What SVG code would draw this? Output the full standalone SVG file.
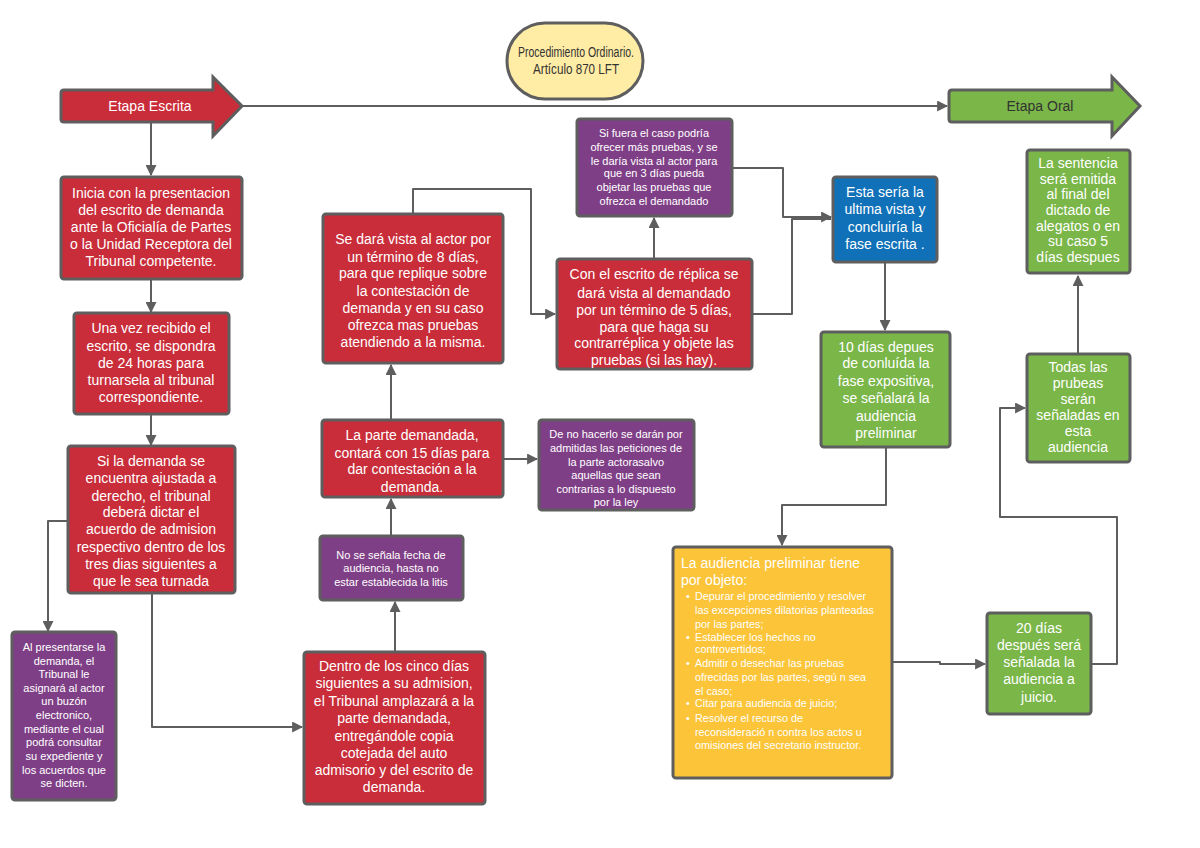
<svg xmlns="http://www.w3.org/2000/svg" width="1200" height="848" viewBox="0 0 1200 848">
<style>
.bx{stroke:#5e5e5e;stroke-width:3}
.red{fill:#c92d39}.pur{fill:#7f3f87}.grn{fill:#7ab648}.blu{fill:#1071b9}.yel{fill:#fcc438}
.t{font-family:"Liberation Sans",Arial,sans-serif;fill:#fff;text-anchor:middle;font-size:14px}
.s{font-size:11px}
.m{font-size:10.8px}
.d{fill:#333}
.l{text-anchor:start}
.c{fill:none;stroke:#5e5e5e;stroke-width:2;stroke-linejoin:round}
</style>
<defs>
<marker id="ah" viewBox="0 0 10 10" refX="9" refY="5" markerWidth="5.5" markerHeight="5.5" orient="auto" markerUnits="strokeWidth">
<path d="M0,0 L10,5 L0,10 z" fill="#5e5e5e"/>
</marker>
</defs>
<rect width="1200" height="848" fill="#fff"/>

<g id="connectors">
<path class="c" d="M243,106 H947" marker-end="url(#ah)"/>
<path class="c" d="M151,123 V175" marker-end="url(#ah)"/>
<path class="c" d="M151,280 V312" marker-end="url(#ah)"/>
<path class="c" d="M151,415 V445" marker-end="url(#ah)"/>
<path class="c" d="M67,521 H48 V631" marker-end="url(#ah)"/>
<path class="c" d="M152,594 V727 H302" marker-end="url(#ah)"/>
<path class="c" d="M395,651 V602" marker-end="url(#ah)"/>
<path class="c" d="M391,535 V499" marker-end="url(#ah)"/>
<path class="c" d="M504,459 H537" marker-end="url(#ah)"/>
<path class="c" d="M391,419 V365" marker-end="url(#ah)"/>
<path class="c" d="M413,213 V189 H531 V314 H555" marker-end="url(#ah)"/>
<path class="c" d="M654,258 V218" marker-end="url(#ah)"/>
<path class="c" d="M733,168 H783 V217 H831" marker-end="url(#ah)"/>
<path class="c" d="M753,314 H792 V219 H831"/>
<path class="c" d="M885,263 V330" marker-end="url(#ah)"/>
<path class="c" d="M886,448 V505 H782 V545" marker-end="url(#ah)"/>
<path class="c" d="M893,662 H940 V664 H985" marker-end="url(#ah)"/>
<path class="c" d="M1092,664 H1117 V517 H1000 V408 H1025" marker-end="url(#ah)"/>
<path class="c" d="M1078,353 V276" marker-end="url(#ah)"/>
</g>

<g id="title">
<rect x="507" y="23" width="136" height="76" rx="38" fill="#ffeca5" class="bx"/>
<text class="t d" x="576" y="57" textLength="116" lengthAdjust="spacingAndGlyphs">Procedimiento Ordinario.</text>
<text class="t d" x="576" y="74" textLength="86" lengthAdjust="spacingAndGlyphs">Artículo 870 LFT</text>
</g>

<g id="etapa-escrita">
<path d="M64,90 H213 V77 L242,106 L213,136 V122 H64 Q61,122 61,119 V93 Q61,90 64,90 Z" class="bx red"/>
<text class="t" x="150" y="111">Etapa Escrita</text>
</g>

<g id="etapa-oral">
<path d="M952,90 H1112 V77 L1140,106 L1112,136 V122 H952 Q949,122 949,119 V93 Q949,90 952,90 Z" class="bx grn"/>
<text class="t d" x="1040" y="111">Etapa Oral</text>
</g>

<g id="n1">
<rect x="61" y="177" width="181" height="102" rx="3" class="bx red"/>
<text class="t" x="151" y="198">Inicia con la presentacion</text>
<text class="t" x="151" y="215">del escrito de demanda</text>
<text class="t" x="151" y="232">ante la Oficialía de Partes</text>
<text class="t" x="151" y="249">o la Unidad Receptora del</text>
<text class="t" x="151" y="266">Tribunal competente.</text>
</g>

<g id="n2">
<rect x="74" y="313" width="155" height="101" rx="3" class="bx red"/>
<text class="t" x="151" y="333">Una vez recibido el</text>
<text class="t" x="151" y="351">escrito, se dispondra</text>
<text class="t" x="151" y="368">de 24 horas para</text>
<text class="t" x="151" y="385">turnarsela al tribunal</text>
<text class="t" x="151" y="402">correspondiente.</text>
</g>

<g id="n3">
<rect x="68" y="446" width="167" height="147" rx="3" class="bx red"/>
<text class="t" x="151" y="466">Si la demanda se</text>
<text class="t" x="151" y="483">encuentra ajustada a</text>
<text class="t" x="151" y="501">derecho, el tribunal</text>
<text class="t" x="151" y="517">deberá dictar el</text>
<text class="t" x="151" y="534">acuerdo de admision</text>
<text class="t" x="151" y="552">respectivo dentro de los</text>
<text class="t" x="151" y="569">tres dias siguientes a</text>
<text class="t" x="151" y="586">que le sea turnada</text>
</g>

<g id="n4">
<rect x="12" y="632" width="104" height="168" rx="3" class="bx pur"/>
<text class="t s" x="64" y="651">Al presentarse la</text>
<text class="t s" x="64" y="665">demanda, el</text>
<text class="t s" x="64" y="678">Tribunal le</text>
<text class="t s" x="64" y="692">asignará al actor</text>
<text class="t s" x="64" y="705">un buzón</text>
<text class="t s" x="64" y="719">electronico,</text>
<text class="t s" x="64" y="733">mediante el cual</text>
<text class="t s" x="64" y="746">podrá consultar</text>
<text class="t s" x="64" y="760">su expediente y</text>
<text class="t s" x="64" y="774">los acuerdos que</text>
<text class="t s" x="64" y="787">se dicten.</text>
</g>

<g id="n5">
<rect x="304" y="652" width="181" height="152" rx="3" class="bx red"/>
<text class="t" x="394" y="671">Dentro de los cinco días</text>
<text class="t" x="394" y="688">siguientes a su admision,</text>
<text class="t" x="394" y="706">el Tribunal amplazará a la</text>
<text class="t" x="394" y="723">parte demandada,</text>
<text class="t" x="394" y="741">entregándole copia</text>
<text class="t" x="394" y="758">cotejada del auto</text>
<text class="t" x="394" y="775">admisorio y del escrito de</text>
<text class="t" x="394" y="792">demanda.</text>
</g>

<g id="n6">
<rect x="320" y="536" width="143" height="64" rx="3" class="bx pur"/>
<text class="t s" x="391" y="559">No se señala fecha de</text>
<text class="t s" x="391" y="572">audiencia, hasta no</text>
<text class="t s" x="391" y="586">estar establecida la litis</text>
</g>

<g id="n7">
<rect x="322" y="420" width="181" height="77" rx="3" class="bx red"/>
<text class="t" x="412" y="440">La parte demandada,</text>
<text class="t" x="412" y="458">contará con 15 días para</text>
<text class="t" x="412" y="474">dar contestación a la</text>
<text class="t" x="412" y="492">demanda.</text>
</g>

<g id="n8">
<rect x="539" y="420" width="155" height="90" rx="3" class="bx pur"/>
<text class="t s" x="616" y="438">De no hacerlo se darán por</text>
<text class="t s" x="616" y="452">admitidas las peticiones de</text>
<text class="t s" x="616" y="466">la parte actorasalvo</text>
<text class="t s" x="616" y="479">aquellas que sean</text>
<text class="t s" x="616" y="493">contrarias a lo dispuesto</text>
<text class="t s" x="616" y="506">por la ley</text>
</g>

<g id="n9">
<rect x="323" y="214" width="180" height="149" rx="3" class="bx red"/>
<text class="t" x="413" y="244">Se dará vista al actor por</text>
<text class="t" x="413" y="262">un término de 8 días,</text>
<text class="t" x="413" y="278">para que replique sobre</text>
<text class="t" x="413" y="296">la contestación de</text>
<text class="t" x="413" y="313">demanda y en su caso</text>
<text class="t" x="413" y="330">ofrezca mas pruebas</text>
<text class="t" x="413" y="347">atendiendo a la misma.</text>
</g>

<g id="n10">
<rect x="557" y="259" width="195" height="110" rx="3" class="bx red"/>
<text class="t" x="654" y="279">Con el escrito de réplica se</text>
<text class="t" x="654" y="298">dará vista al demandado</text>
<text class="t" x="654" y="315">por un término de 5 días,</text>
<text class="t" x="654" y="332">para que haga su</text>
<text class="t" x="654" y="348">contrarréplica y objete las</text>
<text class="t" x="654" y="365">pruebas (si las hay).</text>
</g>

<g id="n11">
<rect x="577" y="119" width="155" height="97" rx="3" class="bx pur"/>
<text class="t s" x="654" y="137">Si fuera el caso podría</text>
<text class="t s" x="654" y="151">ofrecer más pruebas, y  se</text>
<text class="t s" x="654" y="165">le daría vista al actor para</text>
<text class="t s" x="654" y="177">que en 3 días pueda</text>
<text class="t s" x="654" y="191">objetar las pruebas que</text>
<text class="t s" x="654" y="205">ofrezca el demandado</text>
</g>

<g id="n12">
<rect x="833" y="177" width="104" height="85" rx="3" class="bx blu"/>
<text class="t" x="885" y="197">Esta sería la</text>
<text class="t" x="885" y="214">ultima vista y</text>
<text class="t" x="885" y="232">concluiría la</text>
<text class="t" x="885" y="249">fase escrita .</text>
</g>

<g id="n13">
<rect x="821" y="332" width="129" height="115" rx="3" class="bx grn"/>
<text class="t" x="886" y="352">10 días depues</text>
<text class="t" x="886" y="368">de conluída la</text>
<text class="t" x="886" y="386">fase expositiva,</text>
<text class="t" x="886" y="403">se señalará la</text>
<text class="t" x="886" y="421">audiencia</text>
<text class="t" x="886" y="438">preliminar</text>
</g>

<g id="n14">
<rect x="673" y="547" width="219" height="231" rx="3" class="bx yel"/>
<text class="t l" x="681" y="568">La audiencia preliminar tiene</text>
<text class="t l" x="681" y="585">por objeto:</text>
<text class="t m" x="688" y="600">•</text><text class="t l m" x="695" y="600">Depurar el procedimiento y resolver</text>
<text class="t l m" x="695" y="614">las excepciones dilatorias planteadas</text>
<text class="t l m" x="695" y="628">por las partes;</text>
<text class="t m" x="688" y="641">•</text><text class="t l m" x="695" y="641">Establecer los hechos no</text>
<text class="t l m" x="695" y="653">controvertidos;</text>
<text class="t m" x="688" y="667">•</text><text class="t l m" x="695" y="667">Admitir o desechar las pruebas</text>
<text class="t l m" x="695" y="681">ofrecidas por las partes, segú  n sea</text>
<text class="t l m" x="695" y="695">el caso;</text>
<text class="t m" x="688" y="707">•</text><text class="t l m" x="695" y="707">Citar para audiencia de juicio;</text>
<text class="t m" x="688" y="722">•</text><text class="t l m" x="695" y="722">Resolver el recurso de</text>
<text class="t l m" x="695" y="736">reconsideració  n contra los actos u</text>
<text class="t l m" x="695" y="749">omisiones del secretario instructor.</text>
</g>

<g id="n15">
<rect x="987" y="613" width="104" height="101" rx="3" class="bx grn"/>
<text class="t" x="1039" y="633">20 días</text>
<text class="t" x="1039" y="650">después será</text>
<text class="t" x="1039" y="667">señalada la</text>
<text class="t" x="1039" y="684">audiencia a</text>
<text class="t" x="1039" y="702">juicio.</text>
</g>

<g id="n16">
<rect x="1027" y="354" width="103" height="108" rx="3" class="bx grn"/>
<text class="t" x="1078" y="372">Todas las</text>
<text class="t" x="1078" y="388">prubeas</text>
<text class="t" x="1078" y="404">serán</text>
<text class="t" x="1078" y="420">señaladas en</text>
<text class="t" x="1078" y="436">esta</text>
<text class="t" x="1078" y="452">audiencia</text>
</g>

<g id="n17">
<rect x="1027" y="150" width="103" height="123" rx="3" class="bx grn"/>
<text class="t" x="1078" y="168">La sentencia</text>
<text class="t" x="1078" y="184">será emitida</text>
<text class="t" x="1078" y="199">al final del</text>
<text class="t" x="1078" y="215">dictado de</text>
<text class="t" x="1078" y="231">alegatos o en</text>
<text class="t" x="1078" y="246">su caso 5</text>
<text class="t" x="1078" y="262">días despues</text>
</g>
</svg>
